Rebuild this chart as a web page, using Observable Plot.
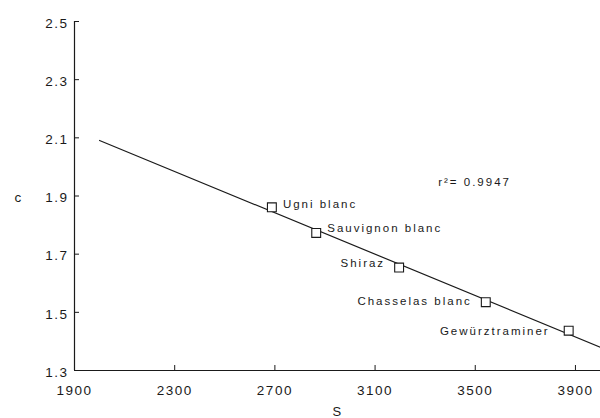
<!DOCTYPE html>
<html>
<head>
<meta charset="utf-8">
<script src="https://cdn.jsdelivr.net/npm/d3@7"></script>
<script src="https://cdn.jsdelivr.net/npm/@observablehq/plot@0.6"></script>
<style>
  html, body { margin: 0; padding: 0; background: #fff; }
  #chart svg { display: block; }
  #chart svg text { letter-spacing: 1.5px; }
  #chart svg g.lbl text { letter-spacing: 2px; }
</style>
</head>
<body>
<div id="chart"></div>
<script>
// --- data ---
const cultivars = ["Ugni blanc", "Sauvignon blanc", "Shiraz", "Chasselas blanc", "Gewürztraminer"];
const sValues = [2688, 2865, 3196, 3542, 3873];
const cValues = [1.861, 1.773, 1.654, 1.535, 1.437];
const fitS = [2000, 4000];
const fitC = [2.091, 1.380];
const xTicks = [1900, 2300, 2700, 3100, 3500, 3900];
const yTicks = [1.3, 1.5, 1.7, 1.9, 2.1, 2.3, 2.5];
const r2Text = "r\u00b2= 0.9947";
const r2Pos = {s: 3352, c: 1.946};

// --- tables built from the arrays ---
const points = cultivars.map((name, i) => ({name, s: sValues[i], c: cValues[i]}));
const fit = fitS.map((s, i) => ({s, c: fitC[i]}));

// label placement (layout only)
const rightSide = new Set(["Ugni blanc", "Sauvignon blanc"]);
const labelDx = {"Ugni blanc": 11, "Sauvignon blanc": 11, "Shiraz": -14, "Chasselas blanc": -14, "Gewürztraminer": -19};
const labelDy = {"Ugni blanc": -3, "Sauvignon blanc": -5, "Shiraz": -4, "Chasselas blanc": -1, "Gewürztraminer": 1};

const font = "'Liberation Sans', Arial, Helvetica, sans-serif";
const ink = "#1a1a1a";

const labelMarks = points.map(p => Plot.text([p], {
  x: "s", y: "c", text: "name",
  textAnchor: rightSide.has(p.name) ? "start" : "end",
  dx: labelDx[p.name], dy: labelDy[p.name],
  fontSize: 11.5, fill: ink, className: "lbl"
}));

const plot = Plot.plot({
  width: 600,
  height: 418,
  marginLeft: 74,
  marginRight: 0,
  marginTop: 21,
  marginBottom: 48,
  style: {fontFamily: font, background: "#fff", color: ink},
  x: {domain: [1900, 4000]},
  y: {domain: [1.3, 2.5]},
  marks: [
    // axis lines
    Plot.ruleY([1.3], {stroke: ink, strokeWidth: 1.2}),
    Plot.ruleX([1900], {y1: 1.3, y2: 2.5, stroke: ink, strokeWidth: 1.2}),
    // inward ticks
    Plot.axisX(xTicks, {tickSize: -5, tickFormat: () => "", stroke: ink, label: null}),
    Plot.axisY(yTicks, {tickSize: -5, tickFormat: () => "", stroke: ink, label: null}),
    // tick labels
    Plot.axisX(xTicks, {tickSize: 0, tickPadding: 15, fontSize: 13.5, fill: ink, label: null, tickFormat: d => String(d)}),
    Plot.axisY(yTicks, {tickSize: 0, tickPadding: 6, dy: 2, fontSize: 13.5, fill: ink, label: null, tickFormat: d => d.toFixed(1)}),
    // axis titles
    Plot.text(["c"], {frameAnchor: "left", dx: -60, dy: 2, fontSize: 13.5, fill: ink}),
    Plot.text(["S"], {frameAnchor: "bottom", dy: 36, lineAnchor: "top", fontSize: 13, fill: ink}),
    // regression line
    Plot.line(fit, {x: "s", y: "c", stroke: ink, strokeWidth: 1.2}),
    // points
    Plot.dot(points, {x: "s", y: "c", symbol: "square", r: 5, stroke: ink, strokeWidth: 1.1, fill: "#fff"}),
    ...labelMarks,
    Plot.text([r2Pos], {x: "s", y: "c", text: () => r2Text, textAnchor: "start", fontSize: 11.5, fill: ink, className: "lbl"})
  ]
});
document.getElementById("chart").appendChild(plot);
</script>
</body>
</html>
